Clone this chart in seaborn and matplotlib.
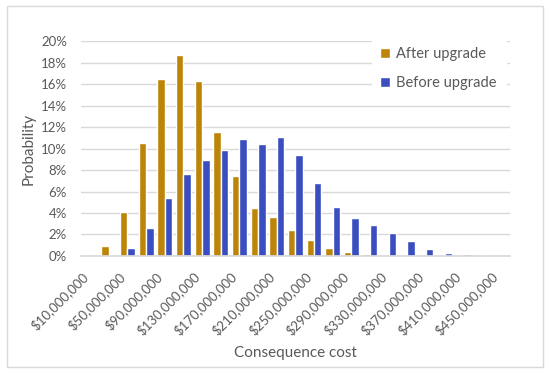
import pandas as pd
import matplotlib.pyplot as plt
import seaborn as sns
from matplotlib.patches import Rectangle
from matplotlib.ticker import PercentFormatter

# values (probability in %)
costs = list(range(10, 451, 20))  # millions of dollars
after = [0.05, 0.93, 4.1, 10.5, 16.5, 18.7, 16.3, 11.5, 7.47, 4.5, 3.6, 2.45,
         1.49, 0.78, 0.4, 0.15, 0.05, 0.0, 0.0, 0.0, 0.0, 0.0, 0.0]
before = [0.0, 0.1, 0.78, 2.6, 5.4, 7.66, 8.9, 9.86, 10.9, 10.4, 11.07, 9.36,
          6.76, 4.56, 3.57, 2.85, 2.1, 1.36, 0.68, 0.3, 0.15, 0.06, 0.0]
cost_labels = [f"${c * 1_000_000:,}" for c in costs]

df = pd.DataFrame({
    'cost': cost_labels * 2,
    'prob': [v / 100 for v in after + before],
    'series': ['After upgrade'] * len(costs) + ['Before upgrade'] * len(costs),
})

sns.set_theme(style="white")
plt.rcParams['font.family'] = ['Lato', 'DejaVu Sans']
text_col = '#595959'

fig = plt.figure(figsize=(5.5, 3.73), dpi=100)
ax = fig.add_axes([0.147, 0.3137, 0.78, 0.5763])

sns.barplot(data=df, x='cost', y='prob', hue='series', order=cost_labels,
            palette={'After upgrade': '#BD8508', 'Before upgrade': '#3A4EC0'},
            width=0.8, saturation=1, ax=ax)

ax.set_ylim(0, 0.20)
ax.set_xlim(-0.5, len(costs) - 0.5)
ax.yaxis.set_major_formatter(PercentFormatter(1.0, decimals=0))
ax.set_yticks([i / 100 for i in range(0, 21, 2)])
ax.yaxis.grid(True, color='#D9D9D9', linewidth=1)
ax.set_axisbelow(True)
for s in ['top', 'right', 'left']:
    ax.spines[s].set_visible(False)
ax.spines['bottom'].set_color('#D9D9D9')

# every other category gets a label, rotated like Excel does
ax.set_xticks(range(0, len(costs), 2))
ax.set_xticklabels(cost_labels[::2], rotation=45, ha='right', va='top',
                   fontsize=9.5, color=text_col)
ax.tick_params(axis='y', labelsize=9.5, labelcolor=text_col, length=0, pad=10)
ax.tick_params(axis='x', length=0, pad=10)

ax.set_xlabel('Consequence cost', fontsize=11, color=text_col, labelpad=6)
ax.set_ylabel('Probability', fontsize=11, color=text_col, labelpad=4)

leg = ax.legend(loc='upper right', bbox_to_anchor=(1.007, 1.045), frameon=True,
                fontsize=10.5, handlelength=0.7, handleheight=0.7,
                handletextpad=0.4, labelspacing=1.0, borderpad=0.6)
leg.get_frame().set_edgecolor('white')
leg.get_frame().set_facecolor('white')
leg.get_frame().set_alpha(1)
for t in leg.get_texts():
    t.set_color(text_col)

# chart area border
fig.patches.append(Rectangle((7 / 550, 6 / 373), 536 / 550, 361 / 373,
                             transform=fig.transFigure, fill=False,
                             edgecolor='#D9D9D9', linewidth=1))

fig.savefig('out.png', dpi=100)
